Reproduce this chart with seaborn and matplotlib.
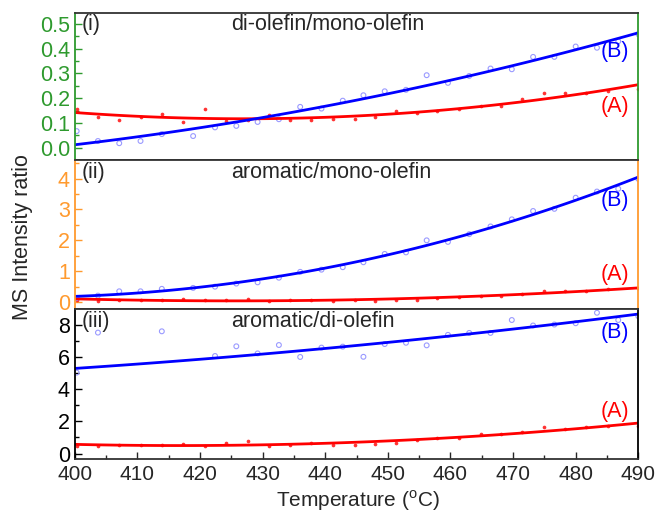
import numpy as np
import matplotlib
matplotlib.use("Agg")
import matplotlib.pyplot as plt
import seaborn as sns
from matplotlib.ticker import MultipleLocator

# temperatures (deg C) of the two sample series
temp_a = [400.3, 403.7, 407.1, 410.5, 413.9, 417.3, 420.8, 424.2, 427.6, 431.0, 434.4, 437.8, 441.2, 444.7,
          447.9, 451.3, 454.6, 457.9, 461.4, 464.8, 468.1, 471.5, 474.9, 478.3, 481.7, 485.1, 490.0]
temp_b = [400.3, 403.7, 407.1, 410.5, 413.9, 418.9, 422.4, 425.8, 429.2, 432.6, 436.0, 439.4, 442.8, 446.1,
          449.5, 452.9, 456.2, 459.6, 463.0, 466.4, 469.8, 473.2, 476.6, 480.0, 483.4, 486.8, 490.0]

# (i) di-olefin / mono-olefin
di_mono_a = [0.158, 0.126, 0.111, 0.126, 0.136, 0.105, 0.157, 0.108, 0.110, 0.131, 0.112, 0.112, 0.116, 0.116,
             0.124, 0.150, 0.139, 0.148, 0.155, 0.169, 0.169, 0.196, 0.220, 0.220, 0.223, 0.228, 0.236]
di_mono_b = [0.067, 0.027, 0.018, 0.027, 0.055, 0.047, 0.082, 0.088, 0.104, 0.115, 0.165, 0.158, 0.190, 0.212,
             0.228, 0.234, 0.293, 0.262, 0.290, 0.320, 0.317, 0.367, 0.367, 0.409, 0.404, 0.430, 0.459]

# (ii) aromatic / mono-olefin
aro_mono_a = [0.07, 0.04, 0.06, 0.07, 0.07, 0.10, 0.07, 0.07, 0.10, 0.05, 0.06, 0.07, 0.05, 0.06,
              0.05, 0.07, 0.08, 0.12, 0.15, 0.20, 0.20, 0.26, 0.35, 0.35, 0.35, 0.41, 0.45]
aro_mono_b = [0.13, 0.21, 0.35, 0.35, 0.43, 0.46, 0.50, 0.60, 0.64, 0.79, 0.98, 1.05, 1.13, 1.29,
              1.56, 1.61, 2.00, 1.95, 2.20, 2.45, 2.68, 2.95, 3.02, 3.38, 3.58, 3.67, 3.99]

# (iii) aromatic / di-olefin
aro_di_a = [0.48, 0.48, 0.56, 0.52, 0.52, 0.60, 0.44, 0.68, 0.77, 0.48, 0.56, 0.68, 0.52, 0.52,
            0.59, 0.66, 0.83, 0.95, 0.95, 1.19, 1.23, 1.33, 1.63, 1.55, 1.63, 1.71, 1.69]
aro_di_b = [5.02, 7.50, np.nan, np.nan, 7.58, np.nan, 6.05, 6.65, 6.21, 6.73, 5.99, 6.57, 6.63, 6.00,
            6.79, 6.87, 6.71, 7.36, 7.48, 7.48, 8.28, 7.94, 8.00, 8.08, 8.73, 8.28, 8.52]
# outliers left out of the fit of (iii)(B)
outliers_b = [[], [], [1, 4]]

tags = ["(i)", "(ii)", "(iii)"]
titles = ["di-olefin/mono-olefin", "aromatic/mono-olefin", "aromatic/di-olefin"]

sns.set_style("ticks")
plt.rcParams['font.family'] = ['Liberation Sans', 'DejaVu Sans']
plt.rcParams['mathtext.fontset'] = 'custom'
plt.rcParams['mathtext.rm'] = 'Liberation Sans'

fig, axes = plt.subplots(3, 1, figsize=(6.56, 5.15), dpi=100, sharex=True,
                         gridspec_kw=dict(hspace=0, height_ratios=[147, 149, 150]))
fig.subplots_adjust(left=0.114, right=0.973, top=0.975, bottom=0.108)

panels = [
    (di_mono_a, di_mono_b, (-0.05, 0.545), 0.1, 0.05, "#2e9a2e", 0.735, 0.363),
    (aro_mono_a, aro_mono_b, (-0.23, 4.6), 1, 0.5, "#ff9a2e", 0.73, 0.23),
    (aro_di_a, aro_di_b, (-0.36, 8.95), 2, 1, "black", 0.844, 0.318),
]
fs = 15.5

for i, (ax, (ya, yb, ylim, maj, mnr, col, pos_b, pos_a)) in enumerate(zip(axes, panels)):
    ax.set_xlim(400, 490)
    ax.set_ylim(*ylim)
    xb = np.array(temp_b)
    yb = np.array(yb, dtype=float)
    yb_fit = yb.copy()
    yb_fit[outliers_b[i]] = np.nan

    sns.regplot(x=np.array(temp_a), y=np.array(ya), order=2, ci=None, truncate=False, ax=ax,
                color="red", scatter_kws=dict(s=7, linewidths=0),
                line_kws=dict(lw=2))
    sns.scatterplot(x=xb, y=yb, ax=ax, s=12, facecolors="none", edgecolor="#9a9aff", linewidth=0.8)
    sns.regplot(x=xb, y=yb_fit, order=2, ci=None, truncate=False, ax=ax, scatter=False,
                color="blue", line_kws=dict(lw=2))
    ax.set_xlim(400, 490)
    ax.set_ylim(*ylim)
    ax.set_xlabel("")
    ax.set_ylabel("")

    ax.yaxis.set_major_locator(MultipleLocator(maj))
    ax.yaxis.set_minor_locator(MultipleLocator(mnr))
    ax.xaxis.set_major_locator(MultipleLocator(10))
    ax.xaxis.set_minor_locator(MultipleLocator(5))
    ax.tick_params(axis="y", which="both", direction="in", colors=col, labelsize=fs, left=True, right=False)
    ax.tick_params(axis="y", which="major", length=5, width=1)
    ax.tick_params(axis="y", which="minor", length=3, width=1)
    ax.tick_params(axis="x", which="both", direction="in", bottom=(i == 2), top=False, labelsize=15)
    ax.tick_params(axis="x", which="major", length=5, width=1, pad=4)
    ax.tick_params(axis="x", which="minor", length=3, width=1)

    for side in ["left", "right"]:
        ax.spines[side].set_color(col)
        ax.spines[side].set_linewidth(1.3)
    for side in ["top", "bottom"]:
        ax.spines[side].set_color("#333333")
        ax.spines[side].set_linewidth(1.3)
    ax.spines["right"].set_visible(True)
    ax.spines["top"].set_visible(True)

    ax.text(0.012, 0.99, tags[i], transform=ax.transAxes, ha="left", va="top", fontsize=fs)
    ax.text(0.278, 0.99, titles[i], transform=ax.transAxes, ha="left", va="top", fontsize=fs)
    ax.text(0.958, pos_b, "(B)", transform=ax.transAxes, ha="center", va="center", fontsize=fs, color="blue")
    ax.text(0.958, pos_a, "(A)", transform=ax.transAxes, ha="center", va="center", fontsize=fs, color="red")

fig.text(0.034, 0.54, "MS Intensity ratio", rotation=90, ha="center", va="center", fontsize=fs)
fig.text(0.546, 0.004, "Temperature ($^{\\mathrm{o}}$C)", ha="center", va="bottom", fontsize=15)

fig.savefig("out.png", dpi=100)
